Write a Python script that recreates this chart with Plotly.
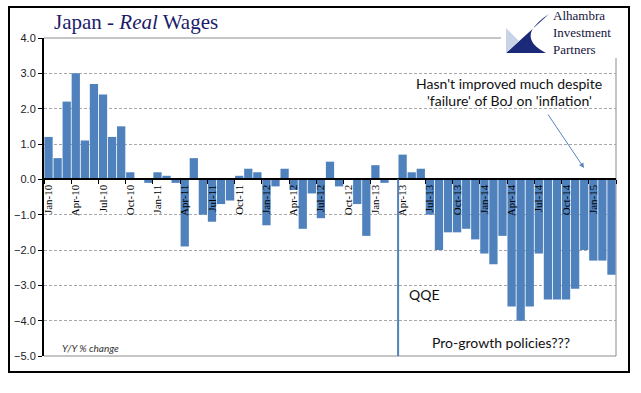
import plotly.graph_objects as go

months = [
    "Jan-10", "Feb-10", "Mar-10", "Apr-10", "May-10", "Jun-10", "Jul-10", "Aug-10", "Sep-10", "Oct-10", "Nov-10", "Dec-10",
    "Jan-11", "Feb-11", "Mar-11", "Apr-11", "May-11", "Jun-11", "Jul-11", "Aug-11", "Sep-11", "Oct-11", "Nov-11", "Dec-11",
    "Jan-12", "Feb-12", "Mar-12", "Apr-12", "May-12", "Jun-12", "Jul-12", "Aug-12", "Sep-12", "Oct-12", "Nov-12", "Dec-12",
    "Jan-13", "Feb-13", "Mar-13", "Apr-13", "May-13", "Jun-13", "Jul-13", "Aug-13", "Sep-13", "Oct-13", "Nov-13", "Dec-13",
    "Jan-14", "Feb-14", "Mar-14", "Apr-14", "May-14", "Jun-14", "Jul-14", "Aug-14", "Sep-14", "Oct-14", "Nov-14", "Dec-14",
    "Jan-15", "Feb-15", "Mar-15",
]

real_wages_yoy = [
    1.2, 0.6, 2.2, 3.0, 1.1, 2.7, 2.4, 1.2, 1.5, 0.2, 0.0, -0.1,
    0.2, 0.1, -0.1, -1.9, 0.6, -1.0, -1.2, -0.7, -0.6, 0.1, 0.3, 0.2,
    -1.3, -0.2, 0.3, -0.3, -1.4, -0.4, -1.1, 0.5, -0.2, 0.0, -0.7, -1.6,
    0.4, -0.1, 0.0, 0.7, 0.2, 0.3, -1.0, -2.0, -1.5, -1.5, -1.4, -1.7,
    -2.1, -2.4, -1.6, -3.6, -4.0, -3.6, -2.1, -3.4, -3.4, -3.4, -3.1, -2.0,
    -2.3, -2.3, -2.7,
]

y_ticks = [4, 3, 2, 1, 0, -1, -2, -3, -4, -5]
qqe_month = "Apr-13"

W, H = 641, 393
L, R, T, B = 44, 25, 38, 37
PW, PH = W - L - R, H - T - B


def px(x):
    return (x - L) / PW


def py(y):
    return (H - B - y) / PH


BLUE = "#4F81BD"

fig = go.Figure()
fig.add_trace(go.Bar(x=months, y=real_wages_yoy, marker=dict(color=BLUE, line=dict(width=0)),
                     showlegend=False, hoverinfo="x+y"))

y_min, y_max = min(y_ticks), max(y_ticks)
zero_frac = (0 - y_min) / (y_max - y_min)

fig.update_layout(
    width=W, height=H,
    margin=dict(l=L, r=R, t=T, b=B, pad=0),
    paper_bgcolor="white", plot_bgcolor="white",
    bargap=0.09,
    xaxis=dict(
        type="category", range=[-0.5, len(months) - 0.5],
        anchor="free", position=zero_frac,
        showline=True, linecolor="black", linewidth=2,
        tickmode="linear", tick0=0, dtick=3,
        tickangle=-90, ticks="outside", tickson="boundaries", ticklen=4, tickcolor="black",
        tickfont=dict(family="Liberation Serif", size=11, color="black"),
        showgrid=False, zeroline=False,
    ),
    yaxis=dict(
        range=[y_min, y_max], tickvals=y_ticks, tickformat=".1f",
        showline=True, linecolor="black", linewidth=2,
        ticks="outside", ticklen=4, tickcolor="black",
        tickfont=dict(family="Liberation Sans", size=11, color="#222222"),
        showgrid=True, gridcolor="#A8A8A8", gridwidth=1, griddash="3px,2px",
        zeroline=False,
    ),
)

shapes = []
# outer black frame
shapes.append(dict(type="rect", xref="paper", yref="paper", x0=px(9), x1=px(629), y0=py(372), y1=py(7),
                   line=dict(color="black", width=2), fillcolor="rgba(0,0,0,0)", layer="below"))
# plot area border (grey)
shapes.append(dict(type="line", xref="paper", yref="paper", x0=0, x1=1, y0=1, y1=1,
                   line=dict(color="#8C8C8C", width=1), layer="below"))
shapes.append(dict(type="line", xref="paper", yref="paper", x0=0, x1=1, y0=0, y1=0,
                   line=dict(color="#8C8C8C", width=1), layer="below"))
shapes.append(dict(type="line", xref="paper", yref="paper", x0=1, x1=1, y0=0, y1=1,
                   line=dict(color="#8C8C8C", width=1), layer="below"))
# QQE vertical marker
qx = months.index(qqe_month) - 0.5
shapes.append(dict(type="line", xref="x", yref="y", x0=qx, x1=qx, y0=0, y1=y_min,
                   line=dict(color=BLUE, width=2), layer="above"))
# logo box
shapes.append(dict(type="rect", xref="paper", yref="paper", x0=px(501), x1=px(628), y0=py(58), y1=py(8),
                   line=dict(width=0), fillcolor="white", layer="above"))
logo_navy = (f"M {px(549)},{py(14)} L {px(506)},{py(53)} L {px(546)},{py(53)} "
             f"Q {px(526)},{py(43)} {px(532)},{py(30)} Q {px(538)},{py(21)} {px(549)},{py(14)} Z")
shapes.append(dict(type="path", xref="paper", yref="paper", path=logo_navy,
                   fillcolor="#1B2A78", line=dict(width=0), layer="above"))
logo_light = (f"M {px(506)},{py(28)} L {px(506)},{py(53)} L {px(519)},{py(41)} Z")
shapes.append(dict(type="path", xref="paper", yref="paper", path=logo_light,
                   fillcolor="#C9D3E6", line=dict(width=0), layer="above"))
fig.update_layout(shapes=shapes)

ann = []
ann.append(dict(xref="paper", yref="paper", x=px(52), y=py(22), xanchor="left", yanchor="middle",
                text="Japan - <i>Real</i> Wages", showarrow=False,
                font=dict(family="Liberation Serif", size=21, color="#1C1C6B")))
ann.append(dict(xref="paper", yref="paper", x=px(551), y=py(33), xanchor="left", yanchor="middle",
                align="left", text="Alhambra<br>Investment<br>Partners", showarrow=False,
                font=dict(family="Liberation Serif", size=13, color="#14143C")))
ann.append(dict(xref="paper", yref="paper", x=px(509), y=py(83), xanchor="center", yanchor="middle",
                text="Hasn't improved much despite", showarrow=False,
                font=dict(family="Lato", size=14, color="#111111")))
ann.append(dict(xref="paper", yref="paper", x=px(509), y=py(101), xanchor="center", yanchor="middle",
                text="'failure' of BoJ on 'inflation'", showarrow=False,
                font=dict(family="Lato", size=14, color="#111111")))
ann.append(dict(xref="paper", yref="paper", x=px(584), y=py(168), ax=-37, ay=-55,
                text="", showarrow=True, arrowhead=2, arrowsize=1, arrowwidth=1, arrowcolor="#5C84BE"))
ann.append(dict(xref="paper", yref="paper", x=px(407), y=py(294), xanchor="left", yanchor="middle",
                text="QQE", showarrow=False,
                font=dict(family="Lato", size=14, color="#111111")))
ann.append(dict(xref="paper", yref="paper", x=px(501), y=py(342), xanchor="center", yanchor="middle",
                text="Pro-growth policies???", showarrow=False,
                font=dict(family="Lato", size=14, color="#111111")))
ann.append(dict(xref="paper", yref="paper", x=px(60), y=py(348), xanchor="left", yanchor="middle",
                text="<i>Y/Y % change</i>", showarrow=False,
                font=dict(family="Lato", size=10, color="#333333")))
fig.update_layout(annotations=ann)

fig.write_html("out.html", config={"displayModeBar": False},
               post_script="document.body.style.margin='0';document.body.style.padding='0';")
